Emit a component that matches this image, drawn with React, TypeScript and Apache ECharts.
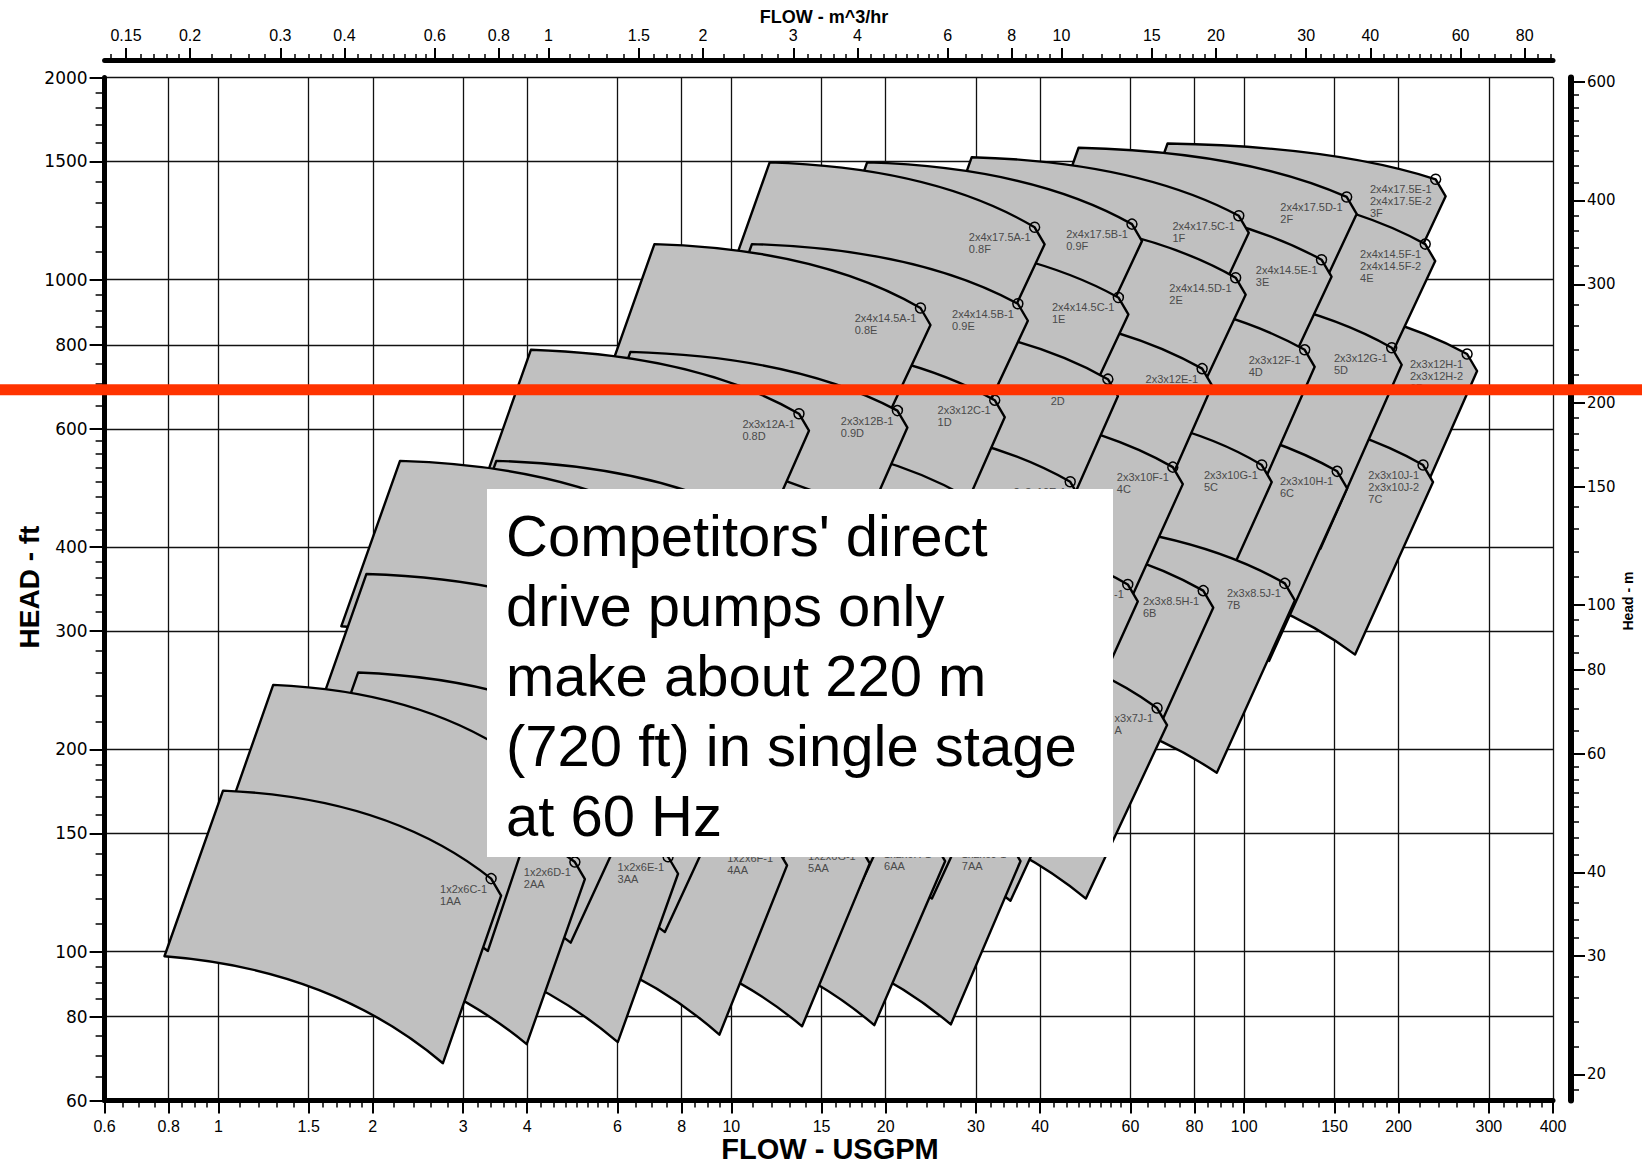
import React, { useEffect, useRef } from "react";
import * as echarts from "echarts";

type Pt = [number, number];
interface Tile { label: string[] | null; tl: Pt; tr: Pt; br: Pt; bl: Pt; }

// ---------- axis ranges & ticks ----------
const FLOW_MIN = 0.6;
const FLOW_MAX = 400;
const HEAD_MIN = 60;
const HEAD_MAX = 2000;
const GPM_PER_M3H = 4.40287;
const FT_PER_M = 3.28084;

const flowMajorGpm = [0.6, 0.8, 1, 1.5, 2, 3, 4, 6, 8, 10, 15, 20, 30, 40, 60, 80, 100, 150, 200, 300, 400];
const flowMinorGpm = [
  0.65, 0.7, 0.75, 0.85, 0.9, 0.95, 1.1, 1.2, 1.3, 1.4, 1.6, 1.7, 1.8, 1.9,
  2.2, 2.4, 2.6, 2.8, 3.2, 3.4, 3.6, 3.8, 4.25, 4.5, 4.75, 5, 5.25, 5.5, 5.75,
  6.5, 7, 7.5, 8.5, 9, 9.5, 11, 12, 13, 14, 16, 17, 18, 19, 22, 24, 26, 28,
  32, 34, 36, 38, 42.5, 45, 47.5, 50, 52.5, 55, 57.5, 65, 70, 75, 85, 90, 95,
  110, 120, 130, 140, 160, 170, 180, 190, 220, 240, 260, 280, 320, 340, 360, 380,
];
const flowMajorM3h = [0.15, 0.2, 0.3, 0.4, 0.6, 0.8, 1, 1.5, 2, 3, 4, 6, 8, 10, 15, 20, 30, 40, 60, 80];
const flowMinorM3h = [
  0.14, 0.16, 0.17, 0.18, 0.19, 0.22, 0.24, 0.26, 0.28, 0.32, 0.34, 0.36, 0.38,
  0.425, 0.45, 0.475, 0.5, 0.525, 0.55, 0.575, 0.65, 0.7, 0.75, 0.85, 0.9, 0.95,
  1.1, 1.2, 1.3, 1.4, 1.6, 1.7, 1.8, 1.9, 2.2, 2.4, 2.6, 2.8, 3.2, 3.4, 3.6, 3.8,
  4.25, 4.5, 4.75, 5, 5.25, 5.5, 5.75, 6.5, 7, 7.5, 8.5, 9, 9.5, 11, 12, 13, 14,
  16, 17, 18, 19, 22, 24, 26, 28, 32, 34, 36, 38, 42.5, 45, 47.5, 50, 52.5, 55,
  57.5, 65, 70, 75, 85, 90,
];
const headMajorFt = [60, 80, 100, 150, 200, 300, 400, 600, 800, 1000, 1500, 2000];
const headMinorFt = [
  65, 70, 75, 85, 90, 95, 110, 120, 130, 140, 160, 170, 180, 190, 220, 240, 260, 280,
  320, 340, 360, 380, 425, 450, 475, 500, 525, 550, 575, 650, 700, 750, 850, 900, 950,
  1100, 1200, 1300, 1400, 1600, 1700, 1800, 1900,
];
const headMajorM = [20, 30, 40, 60, 80, 100, 150, 200, 300, 400, 600];
const headMinorM = [
  19, 22, 24, 26, 28, 32, 34, 36, 38, 42.5, 45, 47.5, 50, 52.5, 55, 57.5, 65, 70, 75,
  85, 90, 95, 110, 120, 130, 140, 160, 170, 180, 190, 220, 240, 260, 280, 320, 340, 360,
  380, 425, 450, 475, 500, 525, 550, 575,
];

// ---------- pump coverage tiles: corners (flow USGPM, head ft) ----------
const series17_5: Tile[] = [
  { label: ["2x4x17.5A-1", "0.8F"], tl: [11.88, 1495], tr: [39.03, 1197], br: [28.35, 622.9], bl: [8.876, 797.9] },
  { label: ["2x4x17.5B-1", "0.9F"], tl: [18.4, 1495], tr: [60.42, 1210], br: [43.89, 629.5], bl: [13.74, 797.9] },
  { label: ["2x4x17.5C-1", "1F"], tl: [29.43, 1522], tr: [97.6, 1245], br: [70.89, 647.8], bl: [21.99, 812.3] },
  { label: ["2x4x17.5D-1", "2F"], tl: [47.54, 1572], tr: [158.4, 1328], br: [115.1, 691.0], bl: [35.52, 838.9] },
  { label: ["2x4x17.5E-1", "2x4x17.5E-2", "3F"], tl: [70.89, 1595], tr: [236.2, 1411], br: [171.6, 734.6], bl: [52.97, 851.0] },
];
const series14_5: Tile[] = [
  { label: ["2x4x14.5A-1", "0.8E"], tl: [7.082, 1130], tr: [23.38, 907.7], br: [16.98, 472.4], bl: [5.292, 603.0] },
  { label: ["2x4x14.5B-1", "0.9E"], tl: [10.97, 1130], tr: [36.2, 921.0], br: [26.29, 479.2], bl: [8.194, 603.0] },
  { label: ["2x4x14.5C-1", "1E"], tl: [17.22, 1159], tr: [56.84, 941.0], br: [41.29, 489.6], bl: [12.87, 618.4] },
  { label: ["2x4x14.5D-1", "2E"], tl: [29.16, 1249], tr: [96.23, 1007], br: [69.9, 524.2], bl: [21.79, 666.7] },
  { label: ["2x4x14.5E-1", "3E"], tl: [42.87, 1318], tr: [141.5, 1071], br: [102.8, 557.1], bl: [32.03, 703.6] },
  { label: ["2x4x14.5F-1", "2x4x14.5F-2", "4E"], tl: [68.27, 1391], tr: [225.4, 1130], br: [163.7, 588.0], bl: [51.02, 742.6] },
];
const series12: Tile[] = [
  { label: ["2x3x12A-1", "0.8D"], tl: [4.067, 786.5], tr: [13.55, 631.8], br: [9.842, 317.1], bl: [3.067, 427.2] },
  { label: ["2x3x12B-1", "0.9D"], tl: [6.357, 780.9], tr: [21.08, 638.6], br: [15.31, 320.6], bl: [4.794, 424.2] },
  { label: ["2x3x12C-1", "1D"], tl: [9.842, 818.0], tr: [32.63, 661.8], br: [23.71, 332.3], bl: [7.423, 444.4] },
  { label: ["2x3x12D-1", "2D"], tl: [16.28, 882.1], tr: [54.23, 711.2], br: [39.39, 357.0], bl: [12.28, 479.2] },
  { label: ["2x3x12E-1", "3D"], tl: [24.97, 914.4], tr: [82.79, 737.3], br: [60.13, 370.1], bl: [18.83, 496.8] },
  { label: ["2x3x12F-1", "4D"], tl: [39.39, 971.9], tr: [131.2, 786.5], br: [95.33, 394.8], bl: [29.71, 528.0] },
  { label: ["2x3x12G-1", "5D"], tl: [58.19, 982.4], tr: [193.9, 792.1], br: [140.8, 397.6], bl: [43.89, 533.7] },
  { label: ["2x3x12H-1", "2x3x12H-2", "6D"], tl: [81.64, 954.5], tr: [272.0, 775.3], br: [197.6, 389.2], bl: [61.57, 518.6] },
];
const series10: Tile[] = [
  { label: null, tl: [2.26, 537.5], tr: [7.458, 433.4], br: [5.495, 226.3], bl: [1.736, 304.9] },
  { label: null, tl: [3.482, 537.5], tr: [11.49, 433.4], br: [8.468, 226.3], bl: [2.676, 304.9] },
  { label: null, tl: [5.367, 557.1], tr: [17.72, 449.2], br: [13.05, 234.6], bl: [4.125, 316.0] },
  { label: null, tl: [8.669, 590.1], tr: [28.61, 475.9], br: [21.08, 248.5], bl: [6.662, 334.7] },
  { label: ["2x3x10E-1", "3C"], tl: [13.87, 620.6], tr: [45.79, 500.3], br: [33.73, 261.3], bl: [10.66, 351.9] },
  { label: ["2x3x10F-1", "4C"], tl: [21.99, 652.5], tr: [72.58, 526.1], br: [53.47, 274.7], bl: [16.9, 370.1] },
  { label: ["2x3x10G-1", "5C"], tl: [37.58, 647.8], tr: [108.2, 529.9], br: [79.75, 276.7], bl: [28.88, 367.5] },
  { label: ["2x3x10H-1", "6C"], tl: [46.01, 643.2], tr: [151.8, 518.6], br: [111.8, 270.8], bl: [35.36, 364.8] },
  { label: ["2x3x10J-1", "2x3x10J-2", "7C"], tl: [67.63, 657.2], tr: [223.2, 529.9], br: [164.5, 276.7], bl: [51.98, 372.8] },
];
const series8_5: Tile[] = [
  { label: null, tl: [1.944, 364.8], tr: [6.417, 294.2], br: [4.727, 153.6], bl: [1.479, 201.8] },
  { label: null, tl: [2.912, 370.1], tr: [9.613, 298.4], br: [7.082, 155.8], bl: [2.218, 204.7] },
  { label: null, tl: [4.343, 382.2], tr: [14.33, 308.2], br: [10.56, 160.9], bl: [3.307, 211.4] },
  { label: null, tl: [6.477, 396.2], tr: [21.38, 319.5], br: [15.75, 166.8], bl: [4.931, 219.1] },
  { label: null, tl: [9.215, 410.7], tr: [30.42, 331.2], br: [22.4, 172.9], bl: [7.016, 227.1] },
  { label: null, tl: [12.81, 425.7], tr: [42.27, 343.3], br: [31.14, 179.2], bl: [9.75, 235.4] },
  { label: ["2x3x8.5G-1", "5B"], tl: [17.97, 436.5], tr: [59.29, 351.9], br: [43.68, 183.8], bl: [13.68, 241.4] },
  { label: ["2x3x8.5H-1", "6B"], tl: [25.2, 427.2], tr: [83.2, 344.5], br: [61.28, 179.8], bl: [19.19, 236.3] },
  { label: ["2x3x8.5J-1", "7B"], tl: [36.37, 438.1], tr: [120.0, 353.2], br: [88.42, 184.5], bl: [27.68, 242.3] },
];
const series7: Tile[] = [
  { label: ["1x2x7A-1", "0.8A"], tl: [1.279, 249.4], tr: [4.105, 186.5], br: [3.353, 100.2], bl: [0.974, 137.9] },
  { label: null, tl: [1.873, 260.3], tr: [6.6, 195.3], br: [4.862, 103.1], bl: [1.426, 144.0] },
  { label: null, tl: [2.858, 269.9], tr: [10.08, 202.5], br: [7.423, 106.9], bl: [2.176, 149.3] },
  { label: null, tl: [4.263, 279.8], tr: [15.03, 209.9], br: [11.07, 110.8], bl: [3.245, 154.7] },
  { label: null, tl: [6.569, 294.2], tr: [23.16, 220.7], br: [17.06, 116.5], bl: [5.001, 162.7] },
  { label: null, tl: [9.479, 302.7], tr: [33.41, 227.1], br: [24.62, 119.9], bl: [7.216, 167.4] },
  { label: null, tl: [11.44, 300.6], tr: [40.33, 225.5], br: [29.71, 119.0], bl: [8.71, 166.2] },
  { label: null, tl: [13.49, 300.6], tr: [47.54, 225.5], br: [35.02, 119.0], bl: [10.27, 166.2] },
  { label: ["2x3x7J-1", "7A"], tl: [19.19, 307.1], tr: [67.63, 230.4], br: [49.13, 119.9], bl: [14.61, 169.8] },
];
const series6: Tile[] = [
  { label: ["1x2x6C-1", "1AA"], tl: [1.021, 173.6], tr: [3.402, 128.4], br: [2.74, 68.2], bl: [0.785, 98.4] },
  { label: ["1x2x6D-1", "2AA"], tl: [1.487, 183.8], tr: [4.955, 135.9], br: [3.991, 72.8], bl: [1.143, 104.2] },
  { label: ["1x2x6E-1", "3AA"], tl: [2.26, 187.1], tr: [7.529, 138.4], br: [6.008, 73.3], bl: [1.737, 106.1] },
  { label: ["1x2x6F-1", "4AA"], tl: [3.685, 192.5], tr: [12.28, 142.4], br: [9.479, 75.2], bl: [2.831, 109.2] },
  { label: ["1x2x6G-1", "5AA"], tl: [5.341, 193.9], tr: [17.8, 143.4], br: [13.74, 77.4], bl: [4.105, 110.0] },
  { label: ["1x2x6H-1", "6AA"], tl: [7.493, 195.3], tr: [24.97, 144.5], br: [19.0, 77.7], bl: [5.758, 110.8] },
  { label: ["1x2x6J-1", "7AA"], tl: [10.51, 195.3], tr: [35.02, 144.5], br: [26.79, 77.9], bl: [8.078, 110.8] },
];

const limitHeadFt = 686;
const noteLines = ["Competitors' direct", "drive pumps only", "make about 220 m", "(720 ft) in single stage", "at 60 Hz"];

// layout of the white note box (page pixels)
const NOTE_BOX = { x: 487, y: 489, w: 626, h: 368 };

const SANS = "'Liberation Sans', Arial, Helvetica, sans-serif";
const WIDE = "'DejaVu Sans', Verdana, sans-serif";
const LABEL_FS = 11;
const LABEL_LH = 12;

const fmt = (v: number) => String(Math.round(v * 1000) / 1000);

export default function App() {
  const ref = useRef<HTMLDivElement>(null);
  useEffect(() => {
    document.body.style.margin = "0";
    const chart = echarts.init(ref.current!, null, { renderer: "svg" });

    const tiles = [...series17_5, ...series14_5, ...series12, ...series10, ...series8_5, ...series7, ...series6]
      .slice()
      .sort((a, b) => b.tl[0] - a.tl[0]);
    const labeled = tiles.filter((t) => t.label);

    const ctx = document.createElement("canvas").getContext("2d")!;
    ctx.font = `${LABEL_FS}px ${SANS}`;
    const mw = (s: string) => ctx.measureText(s).width;

    // only the part of a label line that the note box does not cover is kept as text
    const visiblePart = (s: string, lx: number, midY: number): { text: string; x: number } | null => {
      const w = mw(s);
      const top = midY - LABEL_FS / 2;
      const bot = midY + LABEL_FS / 2;
      const bx0 = NOTE_BOX.x;
      const bx1 = NOTE_BOX.x + NOTE_BOX.w;
      if (top < NOTE_BOX.y || bot > NOTE_BOX.y + NOTE_BOX.h) return { text: s, x: lx };
      if (lx + w <= bx0 || lx >= bx1) return { text: s, x: lx };
      if (lx >= bx0 && lx + w <= bx1) return null;
      if (lx < bx0) {
        let n = s.length;
        while (n > 0 && mw(s.slice(0, n)) > bx0 - lx) n--;
        return n > 0 ? { text: s.slice(0, n), x: lx } : null;
      }
      let k = 0;
      while (k < s.length && mw(s.slice(k)) > lx + w - bx1) k++;
      const sub = s.slice(k);
      return sub ? { text: sub, x: lx + w - mw(sub) } : null;
    };

    const tickStyle = (w: number) => ({ color: "#000", width: w });
    const majorAxis = (extra: any, ticks: number[], len: number, lineW: number, label: any) => ({
      ...extra,
      axisLine: { show: true, onZero: false, lineStyle: { color: "#000", width: lineW } },
      axisTick: { show: true, customValues: ticks, length: len, lineStyle: tickStyle(2) },
      axisLabel: { show: true, customValues: ticks, formatter: fmt, color: "#000", ...label },
      minorTick: { show: false },
      minorSplitLine: { show: false },
    });
    const minorAxis = (extra: any, ticks: number[], len: number) => ({
      ...extra,
      axisLine: { show: false },
      axisTick: { show: true, customValues: ticks, length: len, lineStyle: tickStyle(1.5) },
      axisLabel: { show: false },
      splitLine: { show: false },
      minorTick: { show: false },
    });

    const xBottom = { type: "log", logBase: 10, min: FLOW_MIN, max: FLOW_MAX, position: "bottom" };
    const xTop = { type: "log", logBase: 10, min: FLOW_MIN / GPM_PER_M3H, max: FLOW_MAX / GPM_PER_M3H, position: "top", offset: 17.5 };
    const yLeft = { type: "log", logBase: 10, min: HEAD_MIN, max: HEAD_MAX, position: "left" };
    const yRight = { type: "log", logBase: 10, min: HEAD_MIN / FT_PER_M, max: HEAD_MAX / FT_PER_M, position: "right", offset: 18 };
    const gridLine = { show: true, lineStyle: { color: "#111", width: 1.3 } };

    const option: any = {
      animation: false,
      backgroundColor: "#fff",
      grid: { left: 104.6, right: 89, top: 77.5, bottom: 63.4 },
      xAxis: [
        { ...majorAxis(xBottom, flowMajorGpm, 13, 5, { margin: 18, fontSize: 16, fontFamily: SANS }), splitLine: gridLine },
        minorAxis(xBottom, flowMinorGpm, 7),
        { ...majorAxis(xTop, flowMajorM3h, 12, 5, { margin: 17, fontSize: 16, fontFamily: SANS }), splitLine: { show: false } },
        minorAxis(xTop, flowMinorM3h, 6),
      ],
      yAxis: [
        { ...majorAxis(yLeft, headMajorFt, 15, 5, { margin: 17, fontSize: 17, fontFamily: WIDE }), splitLine: gridLine },
        minorAxis(yLeft, headMinorFt, 9),
        { ...majorAxis(yRight, headMajorM, 14, 6, { margin: 16, fontSize: 15, fontFamily: WIDE }), splitLine: { show: false } },
        minorAxis(yRight, headMinorM, 8),
      ],
      series: [
        {
          type: "custom",
          coordinateSystem: "cartesian2d",
          xAxisIndex: 0,
          yAxisIndex: 0,
          silent: true,
          z: 3,
          data: tiles.map((t) => [t.tl[0], t.tl[1]]),
          renderItem: (params: any, api: any) => {
            const t = tiles[params.dataIndex];
            const TL = api.coord(t.tl);
            const TR = api.coord(t.tr);
            const BR = api.coord(t.br);
            const BL = api.coord(t.bl);
            const K = [TR[0] + 10, TR[1] + 17];
            const c1 = [TL[0] + 0.62 * (TR[0] - TL[0]), TL[1] + 0.08 * (TR[1] - TL[1])];
            const c2 = [BL[0] + 0.6 * (BR[0] - BL[0]), BL[1] + 0.12 * (BR[1] - BL[1])];
            const d =
              `M${TL[0]} ${TL[1]} Q${c1[0]} ${c1[1]} ${TR[0]} ${TR[1]} L${K[0]} ${K[1]} ` +
              `L${BR[0]} ${BR[1]} Q${c2[0]} ${c2[1]} ${BL[0]} ${BL[1]} Z`;
            return {
              type: "path",
              shape: { pathData: d },
              style: { fill: "#c0c0c0", stroke: "#000", lineWidth: 2.4, lineJoin: "round" },
            };
          },
        },
        {
          type: "custom",
          coordinateSystem: "cartesian2d",
          xAxisIndex: 0,
          yAxisIndex: 0,
          silent: true,
          z: 4,
          data: labeled.map((t) => [t.tr[0], t.tr[1]]),
          renderItem: (params: any, api: any) => {
            const t = labeled[params.dataIndex];
            const [cx, cy] = api.coord(t.tr);
            const lines = t.label!;
            const lx = cx - 4 - mw(lines[0]);
            const children: any[] = [
              { type: "circle", shape: { cx, cy, r: 5 }, style: { fill: "none", stroke: "#000", lineWidth: 1.5 } },
            ];
            lines.forEach((s, i) => {
              const midY = cy + 10 + i * LABEL_LH;
              const vis = visiblePart(s, lx, midY);
              if (!vis) return;
              children.push({
                type: "text",
                x: vis.x,
                y: midY,
                style: { text: vis.text, fill: "#4a4a4a", fontSize: LABEL_FS, fontFamily: SANS, align: "left", verticalAlign: "middle" },
              });
            });
            return { type: "group", children };
          },
        },
      ],
    };
    chart.setOption(option);

    const yRed = chart.convertToPixel({ yAxisIndex: 0 }, limitHeadFt) as number;
    chart.setOption({
      graphic: [
        { id: "limit", type: "line", z: 50, shape: { x1: 0, y1: yRed, x2: 1642, y2: yRed }, style: { stroke: "#ff3300", lineWidth: 11 } },
        { id: "box", type: "rect", z: 60, shape: { x: NOTE_BOX.x, y: NOTE_BOX.y, width: NOTE_BOX.w, height: NOTE_BOX.h }, style: { fill: "#ffffff" } },
        {
          id: "note", type: "text", z: 61, x: 506, y: 500,
          style: { text: noteLines.join("\n"), fontSize: 58, fontFamily: SANS, lineHeight: 70, fill: "#000", verticalAlign: "top", align: "left" },
        },
        { id: "t1", type: "text", z: 62, x: 824, y: 17, style: { text: "FLOW - m^3/hr", fontSize: 18, fontWeight: "bold", fontFamily: SANS, fill: "#000", align: "center", verticalAlign: "middle" } },
        { id: "t2", type: "text", z: 62, x: 830, y: 1149, style: { text: "FLOW - USGPM", fontSize: 29, fontWeight: "bold", fontFamily: SANS, fill: "#000", align: "center", verticalAlign: "middle" } },
        { id: "t3", type: "text", z: 62, x: 29, y: 587, rotation: Math.PI / 2, style: { text: "HEAD - ft", fontSize: 28, fontWeight: "bold", fontFamily: SANS, fill: "#000", align: "center", verticalAlign: "middle" } },
        { id: "t4", type: "text", z: 62, x: 1628, y: 601, rotation: Math.PI / 2, style: { text: "Head - m", fontSize: 14, fontWeight: "bold", fontFamily: SANS, fill: "#000", align: "center", verticalAlign: "middle" } },
      ],
    });

    return () => chart.dispose();
  }, []);
  return <div ref={ref} style={{ position: "absolute", left: 0, top: 0, width: 1642, height: 1164 }} />;
}
